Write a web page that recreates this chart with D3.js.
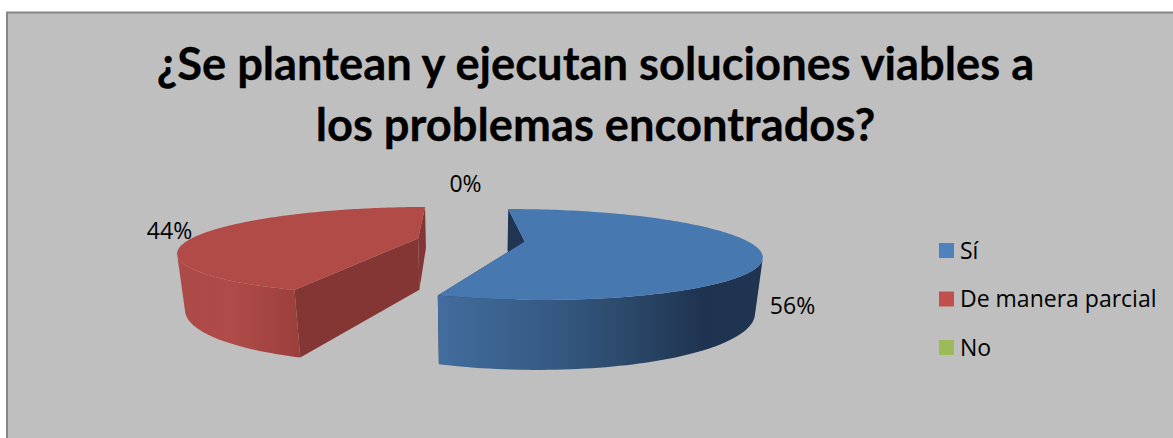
<!DOCTYPE html>
<html>
<head>
<meta charset="utf-8">
<script src="https://cdn.jsdelivr.net/npm/d3@7"></script>
<style>
  html, body { margin: 0; padding: 0; background: #fff; }
  svg { display: block; }
  text { fill: #000; }
  .title { font-family: Lato, "Open Sans", sans-serif; stroke: #000; stroke-width: 0.3px; }
  .small { font-family: "Open Sans", Lato, sans-serif; }
</style>
</head>
<body>
<svg id="chart" width="1173" height="438"></svg>
<script>
// Survey answers
const categories = ["Sí", "De manera parcial", "No"];
const shares = [56, 44, 0];
const titleLines = ["¿Se plantean y ejecutan soluciones viables a", "los problemas encontrados?"];

const legendColors = ["#4F81BD", "#C0504D", "#9BBB59"];
const topColors = ["#4878B0", "#B14B47", "#9BBB59"];
const cutColors = ["#1F3552", "#843635", "#5F7530"];
const wallStops = [
  [[0, "#436D9F"], [0.38, "#345880"], [0.62, "#2A4666"], [0.82, "#1E3350"], [1, "#1F3552"]],
  [[0, "#AC4A47"], [0.45, "#AF4B48"], [1, "#9C403E"]],
  [[0, "#9BBB59"], [1, "#9BBB59"]]
];
const wallSpan = [[437, 762], [180, 296], [0, 1]];

// Camera for the tilted disc: d points at the viewer, h runs down the thickness
const view = { cx: 471, cy: 240, a: 225, b: 41, k: 0.281, m: 0.012, q: 0.025, e: 53 };
const explode = 0.24;
const rotation = -1.5 * Math.PI / 180;

function project(u, d, h) {
  const w = 1 - view.k * d + view.m * u + view.q * h;
  return [view.cx + view.a * u / w, view.cy + (view.b * d + view.e * h) / w];
}

const svg = d3.select("#chart");
const defs = svg.append("defs");

svg.append("rect")
  .attr("x", 7).attr("y", 12.5).attr("width", 1300).attr("height", 600)
  .attr("fill", "#BFBFBF").attr("stroke", "#868686").attr("stroke-width", 2);

svg.append("g").selectAll("text").data(titleLines).join("text")
  .attr("class", "title")
  .attr("x", 595.5).attr("y", (d, i) => 80 + i * 61)
  .attr("text-anchor", "middle")
  .attr("font-size", 45.3).attr("font-weight", 700)
  .text(d => d);

const pie = d3.pie().value(d => d).sort(null).startAngle(rotation).endAngle(rotation + 2 * Math.PI);
const arcs = pie(shares);
const line = d3.line();
const pieLayer = svg.append("g");

// Rim and apex points of one exploded wedge at a given height in the thickness
function wedge(arc) {
  const mid = (arc.startAngle + arc.endAngle) / 2;
  const ox = explode * Math.sin(mid), oz = -explode * Math.cos(mid);
  const rim = (t, h) => project(ox + Math.sin(t), oz - Math.cos(t), h);
  const apex = h => project(ox, oz, h);
  const steps = d3.range(0, 145).map(i => arc.startAngle + (arc.endAngle - arc.startAngle) * i / 144);
  return { rim, apex, steps };
}

// Far wedges are painted before the nearer one
[1, 0].forEach(i => {
  const arc = arcs[i];
  if (arc.endAngle === arc.startAngle) return;
  const { rim, apex, steps } = wedge(arc);

  const grad = defs.append("linearGradient").attr("id", "wall" + i)
    .attr("gradientUnits", "userSpaceOnUse")
    .attr("x1", wallSpan[i][0]).attr("x2", wallSpan[i][1]).attr("y1", 0).attr("y2", 0);
  wallStops[i].forEach(s => grad.append("stop").attr("offset", s[0]).attr("stop-color", s[1]));

  [arc.startAngle, arc.endAngle].forEach(t => {
    const face = [rim(t, 0), apex(0), apex(1), rim(t, 1)];
    pieLayer.append("path").attr("d", line(face) + "Z").attr("fill", cutColors[i]);
  });

  // Only the part of the outer wall that faces the viewer is drawn
  const quads = d3.pairs(steps)
    .map(([t0, t1]) => [rim(t0, 0), rim(t1, 0), rim(t1, 1), rim(t0, 1)])
    .filter(q => d3.polygonArea(q) > 0);
  pieLayer.append("path")
    .attr("d", quads.map(q => line(q) + "Z").join(""))
    .attr("fill", `url(#wall${i})`);

  const top = [apex(0)].concat(steps.map(t => rim(t, 0)));
  pieLayer.append("path").attr("d", line(top) + "Z").attr("fill", topColors[i]);
});

// Percentage labels
const labelSpots = [[792.5, 313.5], [169.5, 239], [465.5, 191.5]];
svg.append("g").selectAll("text").data(shares).join("text")
  .attr("class", "small")
  .attr("x", (d, i) => labelSpots[i][0]).attr("y", (d, i) => labelSpots[i][1])
  .attr("text-anchor", "middle").attr("font-size", 23)
  .text(d => d + "%");

// Legend
const legendY = d3.scalePoint().domain(categories).range([243, 340]);
const legend = svg.append("g").selectAll("g").data(categories).join("g")
  .attr("transform", d => `translate(939,${legendY(d)})`);
legend.append("rect").attr("width", 15).attr("height", 15).attr("fill", (d, i) => legendColors[i]);
legend.append("text").attr("class", "small").attr("x", 21).attr("y", 15.5).attr("font-size", 23).text(d => d);
</script>
</body>
</html>
